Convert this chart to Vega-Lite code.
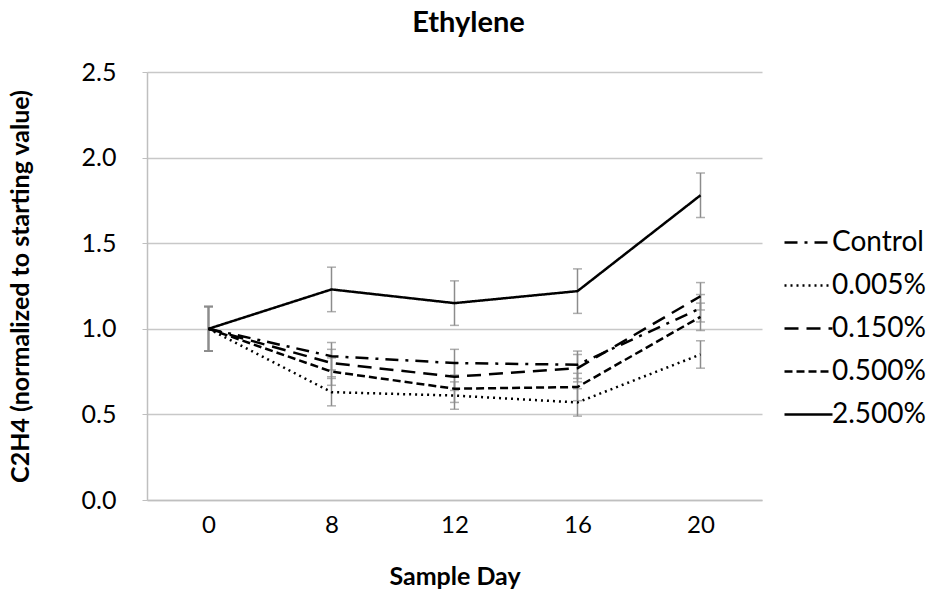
{
  "$schema": "https://vega.github.io/schema/vega-lite/v6.json",
  "autosize": "none",
  "width": 615,
  "height": 428,
  "padding": {"left": 147, "top": 72, "right": 167, "bottom": 101},
  "background": "white",
  "title": {"text": "Ethylene", "font": "Lato", "fontSize": 29, "fontWeight": "bold", "color": "black", "offset": 22, "dx": 14},
  "config": {"view": {"stroke": null}, "font": "Lato"},
  "data": {"values": [
    {"day": "0", "series": "Control", "value": 1.0, "lo": 0.87, "hi": 1.13},
    {"day": "8", "series": "Control", "value": 0.84, "lo": 0.76, "hi": 0.92},
    {"day": "12", "series": "Control", "value": 0.80, "lo": 0.72, "hi": 0.88},
    {"day": "16", "series": "Control", "value": 0.79, "lo": 0.71, "hi": 0.87},
    {"day": "20", "series": "Control", "value": 1.12, "lo": 1.04, "hi": 1.20},
    {"day": "0", "series": "0.005%", "value": 1.0, "lo": 0.87, "hi": 1.13},
    {"day": "8", "series": "0.005%", "value": 0.63, "lo": 0.55, "hi": 0.71},
    {"day": "12", "series": "0.005%", "value": 0.61, "lo": 0.53, "hi": 0.69},
    {"day": "16", "series": "0.005%", "value": 0.57, "lo": 0.49, "hi": 0.65},
    {"day": "20", "series": "0.005%", "value": 0.85, "lo": 0.77, "hi": 0.93},
    {"day": "0", "series": "0.150%", "value": 1.0, "lo": 0.87, "hi": 1.13},
    {"day": "8", "series": "0.150%", "value": 0.80, "lo": 0.72, "hi": 0.88},
    {"day": "12", "series": "0.150%", "value": 0.72, "lo": 0.64, "hi": 0.80},
    {"day": "16", "series": "0.150%", "value": 0.77, "lo": 0.69, "hi": 0.85},
    {"day": "20", "series": "0.150%", "value": 1.19, "lo": 1.11, "hi": 1.27},
    {"day": "0", "series": "0.500%", "value": 1.0, "lo": 0.87, "hi": 1.13},
    {"day": "8", "series": "0.500%", "value": 0.75, "lo": 0.67, "hi": 0.83},
    {"day": "12", "series": "0.500%", "value": 0.65, "lo": 0.57, "hi": 0.73},
    {"day": "16", "series": "0.500%", "value": 0.66, "lo": 0.58, "hi": 0.74},
    {"day": "20", "series": "0.500%", "value": 1.07, "lo": 0.99, "hi": 1.15},
    {"day": "0", "series": "2.500%", "value": 1.0, "lo": 0.87, "hi": 1.13},
    {"day": "8", "series": "2.500%", "value": 1.23, "lo": 1.10, "hi": 1.36},
    {"day": "12", "series": "2.500%", "value": 1.15, "lo": 1.02, "hi": 1.28},
    {"day": "16", "series": "2.500%", "value": 1.22, "lo": 1.09, "hi": 1.35},
    {"day": "20", "series": "2.500%", "value": 1.78, "lo": 1.65, "hi": 1.91}
  ]},
  "encoding": {
    "x": {"field": "day", "type": "ordinal", "sort": ["0", "8", "12", "16", "20"],
      "scale": {"type": "point", "padding": 0.5},
      "axis": {"title": "Sample Day", "titleFontSize": 25, "titleFontWeight": "bold", "titleColor": "black", "titlePadding": 27,
        "labelFontSize": 24, "labelColor": "black", "labelAngle": 0, "labelPadding": 13, "ticks": false,
        "domainColor": "#bfbfbf", "domainWidth": 1.5, "grid": false}},
    "y": {"type": "quantitative",
      "scale": {"domain": [0, 2.5], "nice": false},
      "axis": {"title": "C2H4 (normalized to starting value)", "titleFontSize": 25, "titleFontWeight": "bold", "titleColor": "black", "titlePadding": 48,
        "labelFontSize": 25, "labelColor": "black", "format": ".1f", "values": [0, 0.5, 1, 1.5, 2, 2.5], "labelPadding": 26,
        "tickColor": "#bfbfbf", "tickSize": 5, "domainColor": "#bfbfbf", "domainWidth": 1.5,
        "grid": true, "gridColor": "#c8c8c8", "gridWidth": 1.5}}
  },
  "layer": [
    {"mark": {"type": "rule", "color": "#8c8c8c", "strokeWidth": 1.5},
      "encoding": {"y": {"field": "lo"}, "y2": {"field": "hi"}}},
    {"mark": {"type": "tick", "color": "#8c8c8c", "thickness": 1.5, "size": 9, "orient": "horizontal"},
      "encoding": {"y": {"field": "lo"}}},
    {"mark": {"type": "tick", "color": "#8c8c8c", "thickness": 1.5, "size": 9, "orient": "horizontal"},
      "encoding": {"y": {"field": "hi"}}},
    {"mark": {"type": "line", "color": "black", "strokeWidth": 2.5},
      "encoding": {
        "y": {"field": "value"},
        "detail": {"field": "series"},
        "strokeDash": {"field": "series", "type": "nominal",
          "scale": {"domain": ["Control", "0.005%", "0.150%", "0.500%", "2.500%"],
            "range": [[13, 7, 3, 7], [2, 4], [14, 8], [8, 4], [1, 0]]},
          "legend": {"title": null, "orient": "none", "legendX": 636, "legendY": 145,
            "symbolType": "stroke", "symbolSize": 2304, "symbolStrokeWidth": 2.5, "symbolStrokeColor": "black",
            "labelFontSize": 28, "labelColor": "black", "labelOffset": -2, "rowPadding": 3}}
      }}
  ]
}
